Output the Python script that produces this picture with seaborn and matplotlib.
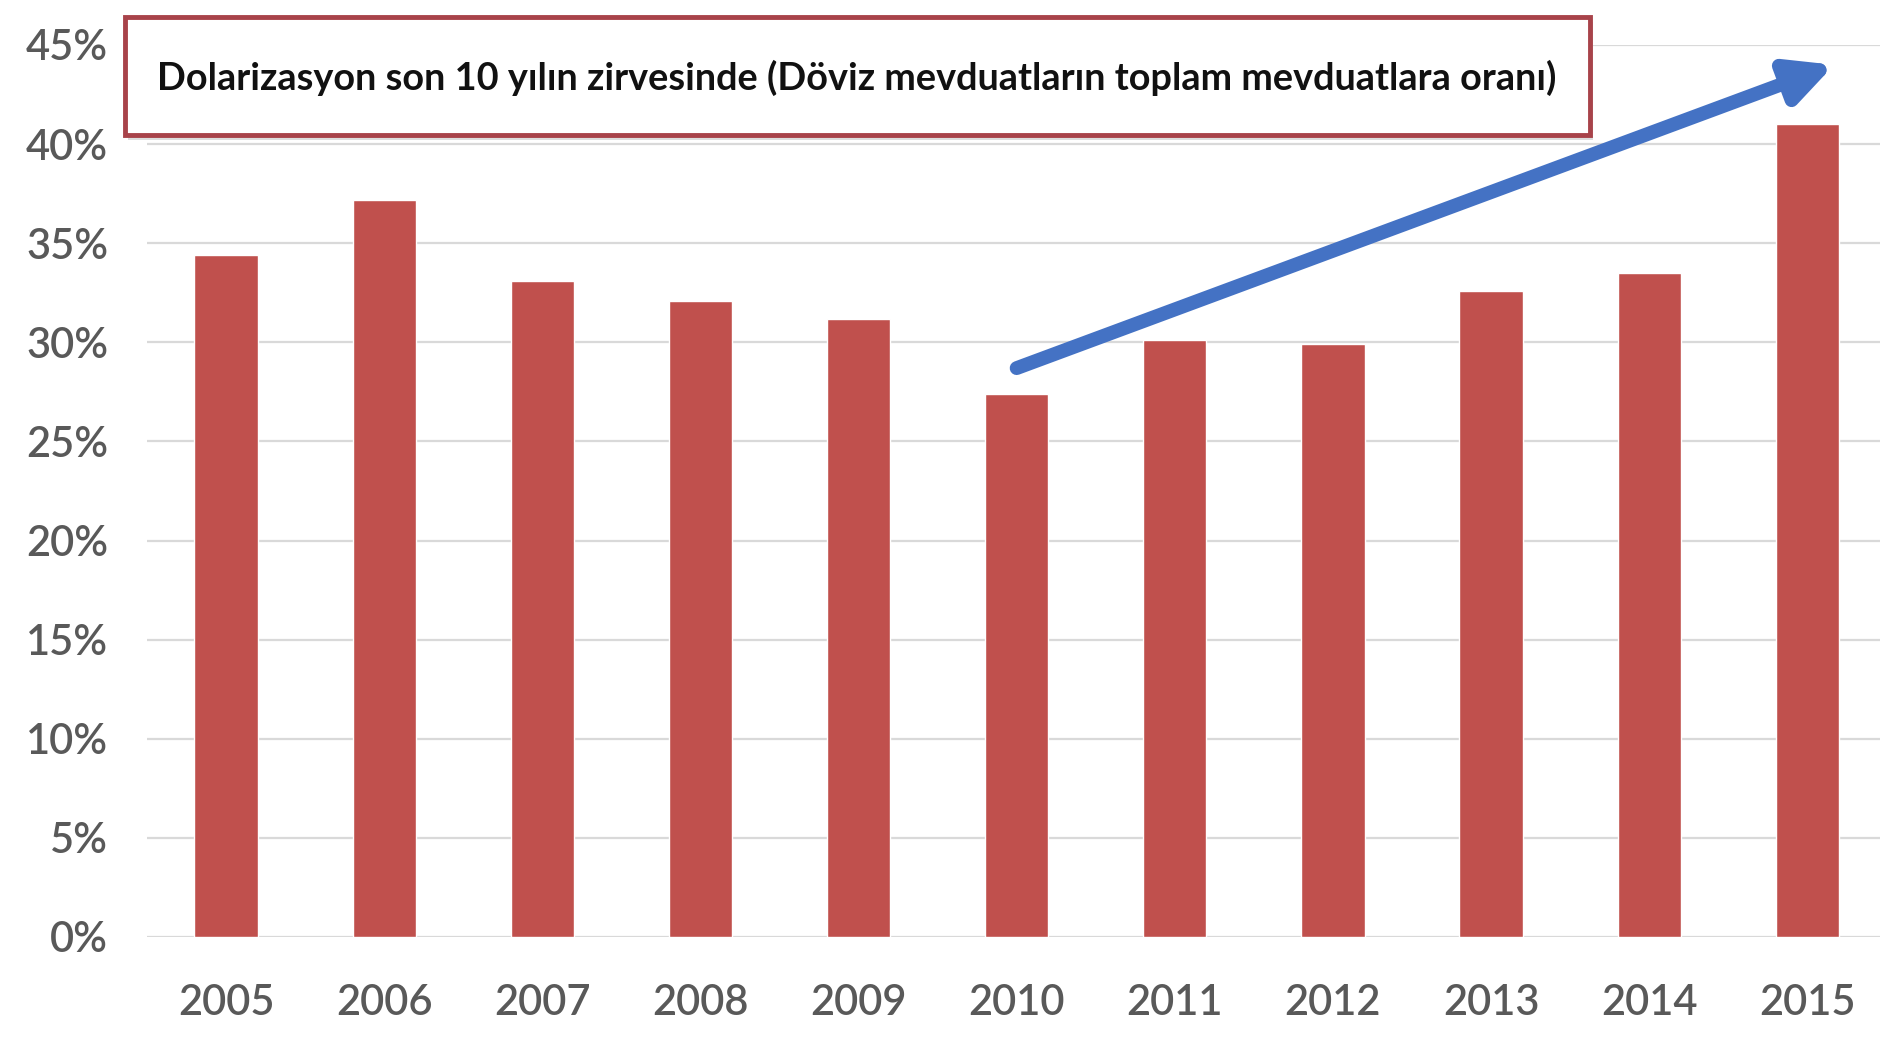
import matplotlib
matplotlib.use("Agg")
import matplotlib.pyplot as plt
import seaborn as sns
import pandas as pd
from matplotlib.patches import Rectangle
from matplotlib.ticker import FuncFormatter, MultipleLocator

years = ["2005", "2006", "2007", "2008", "2009", "2010", "2011", "2012", "2013", "2014", "2015"]
ratios = [0.344, 0.372, 0.331, 0.321, 0.312, 0.274, 0.301, 0.299, 0.326, 0.335, 0.410]
title_text = "Dolarizasyon son 10 yılın zirvesinde (Döviz mevduatların toplam mevduatlara oranı)"
arrow_start = (5.0, 0.287)
arrow_end = (10.17, 0.440)

sns.set_theme(style="white")
plt.rcParams["font.family"] = ["Lato", "DejaVu Sans"]

df = pd.DataFrame({"year": years, "ratio": ratios})

fig = plt.figure(figsize=(18.86, 10.45), dpi=100)
ax = fig.add_axes([147 / 1886, 1 - 937 / 1045, (1880 - 147) / 1886, (937 - 45) / 1045])

sns.barplot(data=df, x="year", y="ratio", color="#C0504D", saturation=1, width=0.40, ax=ax, zorder=3)

ax.set_ylim(0, 0.45)
ax.set_xlim(-0.5, 10.46)
ax.yaxis.set_major_locator(MultipleLocator(0.05))
ax.yaxis.set_major_formatter(FuncFormatter(lambda v, p: f"{round(v * 100)}%"))
ax.grid(axis="y", color="#D9D9D9", linewidth=1.6, zorder=0)
ax.grid(axis="x", visible=False)
for s in ax.spines.values():
    s.set_visible(False)
ax.set_xlabel("")
ax.set_ylabel("")
ax.tick_params(axis="y", labelsize=30, labelcolor="#595959", pad=28, length=0)
ax.tick_params(axis="x", labelsize=30, labelcolor="#595959", pad=34, length=0)
for lab in ax.get_xticklabels() + ax.get_yticklabels():
    lab.set_fontweight("semibold")

# Arrow
ax.annotate("", xy=arrow_end, xytext=arrow_start,
            arrowprops=dict(arrowstyle="-|>,head_length=2.2,head_width=1.1",
                            color="#4472C4", linewidth=10, shrinkA=0, shrinkB=0),
            zorder=5)

# Title box with shadow
shadow = Rectangle((128 / 1886, 1 - 140 / 1045), (1590 - 125) / 1886, (135 - 17) / 1045,
                   transform=fig.transFigure, facecolor="#DDDDDD", edgecolor="none", zorder=9)
fig.add_artist(shadow)
box = Rectangle((125 / 1886, 1 - 135 / 1045), (1590 - 125) / 1886, (135 - 17) / 1045,
                transform=fig.transFigure, facecolor="white", edgecolor="#A8434A", linewidth=3.5, zorder=10)
fig.add_artist(box)
fig.text(857 / 1886, 1 - 78 / 1045, title_text, ha="center", va="center",
         fontsize=27.3, fontweight="bold", color="#111111", zorder=11)

fig.savefig("out.png", dpi=100)
